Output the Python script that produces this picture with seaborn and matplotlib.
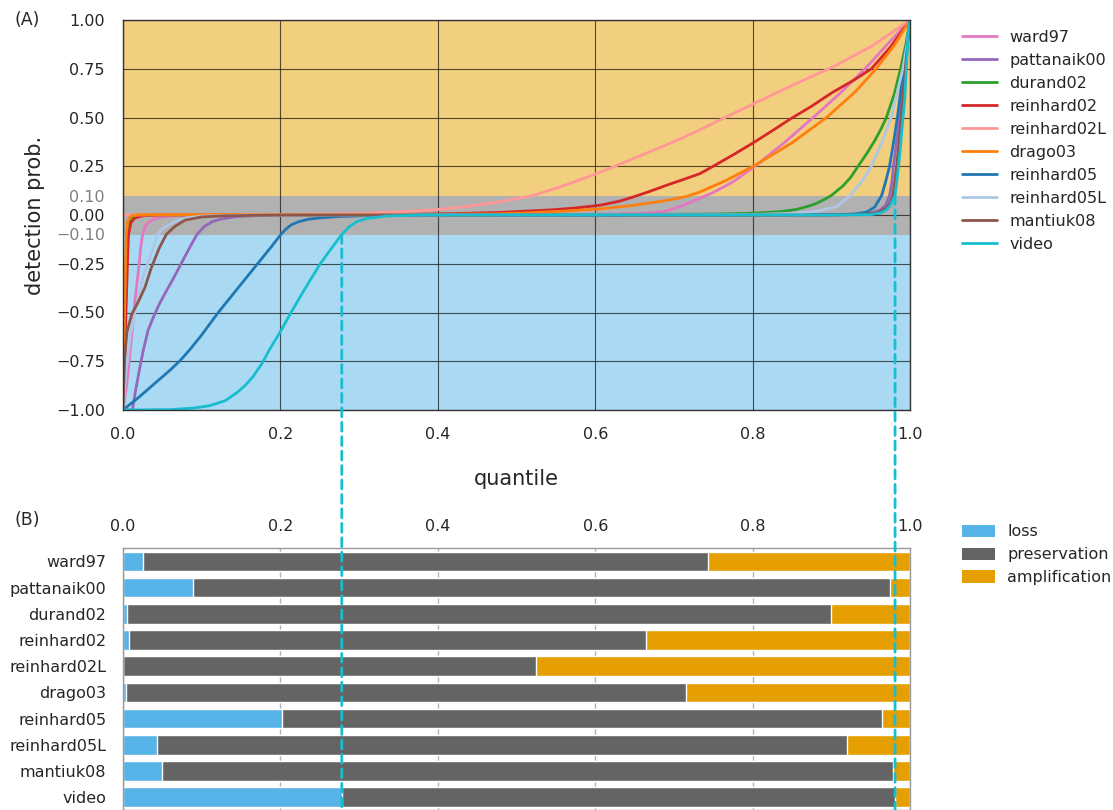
import matplotlib
matplotlib.use("Agg")
import matplotlib.pyplot as plt
from matplotlib.patches import ConnectionPatch, Patch
import numpy as np
import pandas as pd
import seaborn as sns

# ---------------------------------------------------------------- data
methods = ["ward97", "pattanaik00", "durand02", "reinhard02", "reinhard02L",
           "drago03", "reinhard05", "reinhard05L", "mantiuk08", "video"]
line_colors = ["#e377c2", "#9467bd", "#2ca02c", "#d62728", "#ff9896",
               "#ff7f0e", "#1f77b4", "#aec7e8", "#8c564b", "#17becf"]

# detection probability as a function of the contrast quantile
ward97_q = [0, 0.005, 0.01, 0.015, 0.02, 0.023, 0.025, 0.028, 0.033, 0.04, 0.05, 0.065, 0.09,
            0.3, 0.5, 0.6, 0.65, 0.67, 0.69, 0.705, 0.72, 0.735, 0.75, 0.775, 0.803, 0.84, 0.877,
            0.91, 0.943, 0.97, 1.0]
ward97_p = [-1, -0.86, -0.66, -0.45, -0.27, -0.15, -0.1, -0.06, -0.035, -0.02, -0.01, -0.004, -0.001,
            0, 0.001, 0.004, 0.007, 0.011, 0.02, 0.04, 0.063, 0.09, 0.115, 0.17, 0.25, 0.37, 0.5,
            0.62, 0.75, 0.87, 1.0]

pattanaik00_q = [0, 0.012, 0.016, 0.021, 0.026, 0.032, 0.04, 0.047, 0.055, 0.062, 0.07, 0.079, 0.087,
                 0.094, 0.103, 0.113, 0.125, 0.145, 0.17, 0.22, 0.5, 0.85, 0.93, 0.95, 0.962, 0.969,
                 0.974, 0.977, 0.979, 0.983, 0.987, 0.991, 0.994, 0.997, 1.0]
pattanaik00_p = [-1, -1, -0.9, -0.79, -0.69, -0.59, -0.51, -0.45, -0.39, -0.34, -0.28, -0.21, -0.15,
                 -0.1, -0.06, -0.035, -0.02, -0.008, -0.003, 0, 0, 0.001, 0.004, 0.01, 0.025, 0.05,
                 0.1, 0.17, 0.25, 0.38, 0.5, 0.65, 0.78, 0.89, 1.0]

durand02_q = [0, 0.002, 0.004, 0.0055, 0.008, 0.013, 0.025, 0.05, 0.6, 0.75, 0.792, 0.835, 0.855,
              0.869, 0.88, 0.89, 0.9, 0.915, 0.925, 0.934, 0.945, 0.955, 0.963, 0.97, 0.98, 0.988,
              0.995, 1.0]
durand02_p = [-1, -0.6, -0.25, -0.1, -0.04, -0.012, -0.002, 0, 0.002, 0.005, 0.008, 0.017, 0.028,
              0.043, 0.058, 0.077, 0.1, 0.15, 0.195, 0.25, 0.315, 0.38, 0.44, 0.5, 0.62, 0.75,
              0.88, 1.0]

reinhard02_q = [0, 0.003, 0.006, 0.007, 0.01, 0.015, 0.025, 0.05, 0.2, 0.352, 0.42, 0.479, 0.543,
                0.575, 0.606, 0.63, 0.648, 0.67, 0.691, 0.712, 0.733, 0.75, 0.775, 0.8, 0.825,
                0.847, 0.875, 0.9, 0.93, 0.951, 0.975, 1.0]
reinhard02_p = [-1, -0.6, -0.2, -0.1, -0.04, -0.015, -0.004, 0, 0.001, 0.003, 0.007, 0.013, 0.026,
                0.036, 0.05, 0.07, 0.092, 0.122, 0.153, 0.182, 0.212, 0.25, 0.308, 0.368, 0.432,
                0.49, 0.558, 0.625, 0.695, 0.75, 0.86, 1.0]

reinhard02L_q = [0, 0.1, 0.2, 0.3, 0.352, 0.394, 0.44, 0.479, 0.521, 0.56, 0.6, 0.65, 0.68, 0.708,
                 0.733, 0.765, 0.8, 0.85, 0.905, 0.953, 1.0]
reinhard02L_p = [0, 0.001, 0.003, 0.008, 0.017, 0.026, 0.045, 0.068, 0.1, 0.15, 0.209, 0.292, 0.342,
                 0.39, 0.437, 0.5, 0.568, 0.664, 0.765, 0.87, 1.0]

drago03_q = [0, 0.001, 0.003, 0.004, 0.006, 0.01, 0.02, 0.2, 0.4, 0.479, 0.521, 0.56, 0.606, 0.65,
             0.691, 0.716, 0.733, 0.765, 0.801, 0.85, 0.894, 0.93, 0.957, 0.98, 1.0]
drago03_p = [-1, -0.7, -0.3, -0.1, -0.03, -0.005, 0.002, 0.002, 0.003, 0.006, 0.012, 0.02, 0.031,
             0.05, 0.075, 0.095, 0.118, 0.175, 0.25, 0.37, 0.5, 0.63, 0.75, 0.87, 1.0]

reinhard05_q = [0, 0.02, 0.04, 0.06, 0.073, 0.085, 0.1, 0.121, 0.15, 0.175, 0.19, 0.2, 0.207,
                0.214, 0.222, 0.235, 0.25, 0.272, 0.31, 0.4, 0.8, 0.9, 0.93, 0.945, 0.955, 0.964,
                0.969, 0.974, 0.979, 0.984, 0.988, 0.991, 0.996, 1.0]
reinhard05_p = [-1, -0.935, -0.865, -0.795, -0.745, -0.69, -0.615, -0.5, -0.355, -0.23, -0.155,
                -0.103, -0.072, -0.05, -0.036, -0.022, -0.015, -0.0085, -0.003, 0, 0, 0.001,
                0.005, 0.015, 0.04, 0.1, 0.17, 0.25, 0.37, 0.5, 0.63, 0.75, 0.88, 1.0]

reinhard05L_q = [0, 0.004, 0.01, 0.018, 0.026, 0.034, 0.038, 0.044, 0.05, 0.066, 0.08, 0.1, 0.15,
                 0.8, 0.85, 0.88, 0.907, 0.924, 0.94, 0.951, 0.965, 0.976, 0.985, 0.991, 0.996, 1.0]
reinhard05L_p = [-1, -0.8, -0.6, -0.45, -0.31, -0.22, -0.17, -0.1, -0.07, -0.034, -0.015, -0.006,
                 -0.001, 0.003, 0.008, 0.018, 0.043, 0.1, 0.18, 0.25, 0.38, 0.5, 0.65, 0.75, 0.87, 1.0]

mantiuk08_q = [0, 0.002, 0.005, 0.011, 0.02, 0.028, 0.036, 0.046, 0.055, 0.066, 0.079, 0.1, 0.13,
               0.2, 0.9, 0.94, 0.96, 0.971, 0.975, 0.978, 0.981, 0.983, 0.986, 0.989, 0.994, 0.997, 1.0]
mantiuk08_p = [-1, -0.74, -0.6, -0.51, -0.44, -0.37, -0.27, -0.17, -0.1, -0.058, -0.026, -0.01,
               -0.004, 0, 0, 0.003, 0.012, 0.04, 0.065, 0.1, 0.18, 0.25, 0.37, 0.5, 0.75, 0.88, 1.0]

video_q = [0, 0.06, 0.09, 0.11, 0.13, 0.145, 0.155, 0.165, 0.176, 0.187, 0.2, 0.213, 0.229, 0.24,
           0.251, 0.265, 0.278, 0.287, 0.297, 0.31, 0.335, 0.38, 0.9, 0.95, 0.962, 0.97, 0.975,
           0.978, 0.981, 0.984, 0.987, 0.99, 0.9934, 0.9955, 0.9976, 1.0]
video_p = [-1, -0.998, -0.99, -0.978, -0.952, -0.91, -0.875, -0.83, -0.765, -0.684, -0.598, -0.504,
           -0.393, -0.32, -0.248, -0.17, -0.1, -0.062, -0.034, -0.018, -0.005, 0, 0, 0.002, 0.01,
           0.026, 0.05, 0.077, 0.1, 0.2, 0.308, 0.45, 0.598, 0.76, 0.923, 1.0]

# share of the quantile range in each category
loss = [0.025, 0.089, 0.0055, 0.007, 0.0, 0.004, 0.202, 0.043, 0.050, 0.278]
preservation = [0.718, 0.885, 0.8945, 0.657, 0.525, 0.712, 0.762, 0.877, 0.928, 0.703]
amplification = [0.257, 0.026, 0.100, 0.336, 0.475, 0.284, 0.036, 0.080, 0.022, 0.019]

category_names = ["loss", "preservation", "amplification"]
category_colors = ["#56B4E9", "#646464", "#E69F00"]

y_major = [-1.0, -0.75, -0.5, -0.25, 0.0, 0.25, 0.5, 0.75, 1.0]
y_band = [-0.1, 0.1]
x_ticks = [0.0, 0.2, 0.4, 0.6, 0.8, 1.0]

curves = {
    "ward97": (ward97_q, ward97_p),
    "pattanaik00": (pattanaik00_q, pattanaik00_p),
    "durand02": (durand02_q, durand02_p),
    "reinhard02": (reinhard02_q, reinhard02_p),
    "reinhard02L": (reinhard02L_q, reinhard02L_p),
    "drago03": (drago03_q, drago03_p),
    "reinhard05": (reinhard05_q, reinhard05_p),
    "reinhard05L": (reinhard05L_q, reinhard05L_p),
    "mantiuk08": (mantiuk08_q, mantiuk08_p),
    "video": (video_q, video_p),
}
curve_df = pd.concat(
    [pd.DataFrame({"method": m, "quantile": curves[m][0], "prob": curves[m][1]}) for m in methods],
    ignore_index=True,
)

# ---------------------------------------------------------------- style
sns.set_theme(style="white")
plt.rcParams["font.family"] = ["DejaVu Sans"]
FS = 11.5

W, H = 1113, 810
fig = plt.figure(figsize=(W / 100, H / 100), dpi=100)
axA = fig.add_axes([123 / W, 1 - 410 / H, 787 / W, 390 / H])
axB = fig.add_axes([123 / W, 0.0, 787 / W, 262 / H])

# ---------------------------------------------------------------- panel A
axA.axhspan(y_band[1], 1.0, color=category_colors[2], alpha=0.5, lw=0, zorder=0.2)
axA.axhspan(y_band[0], y_band[1], color=category_colors[1], alpha=0.5, lw=0, zorder=0.2)
axA.axhspan(-1.0, y_band[0], color=category_colors[0], alpha=0.5, lw=0, zorder=0.2)

sns.lineplot(data=curve_df, x="quantile", y="prob", hue="method", hue_order=methods,
             palette=dict(zip(methods, line_colors)), estimator=None, sort=False,
             lw=2.0, ax=axA)

axA.set_xlim(0, 1.0)
axA.set_ylim(-1.0, 1.0)
axA.set_xticks(x_ticks)
axA.set_xticklabels([f"{t:.1f}" for t in x_ticks], fontsize=FS)
axA.set_yticks(y_major)
axA.set_yticklabels([f"{t:.2f}".replace("-", "\u2212") for t in y_major], fontsize=FS)
axA.set_yticks(y_band, minor=True)
axA.set_yticklabels([f"{t:.2f}".replace("-", "\u2212") for t in y_band], minor=True,
                    fontsize=FS, color="#808080")
axA.tick_params(axis="both", which="both", length=0)
axA.tick_params(axis="x", pad=12)
axA.tick_params(axis="y", which="both", pad=13)
axA.set_axisbelow(True)
axA.grid(True, which="major", color="black", alpha=0.65, lw=0.8)
axA.grid(False, which="minor")
for s in axA.spines.values():
    s.set_color("#333333")
    s.set_linewidth(1.0)
axA.set_xlabel("quantile", fontsize=15, labelpad=20)
axA.set_ylabel("detection prob.", fontsize=15, labelpad=8)

sns.move_legend(axA, "upper left", bbox_to_anchor=(1.066, 0.975), frameon=False, title=None,
                fontsize=FS, borderpad=0, borderaxespad=0, handlelength=2.2,
                handletextpad=0.75, labelspacing=0.5)
for h in axA.get_legend().legend_handles:
    h.set_linewidth(2.0)

# ---------------------------------------------------------------- panel B
cum_pres = [l + p for l, p in zip(loss, preservation)]
cum_all = [c + a for c, a in zip(cum_pres, amplification)]
for vals, col in zip([cum_all, cum_pres, loss], category_colors[::-1]):
    sns.barplot(x=vals, y=methods, orient="h", color=col, saturation=1, width=0.75,
                errorbar=None, ax=axB)

axB.set_xlim(0, 1.0)
axB.set_ylim(9.49, -0.51)
axB.xaxis.tick_top()
axB.set_xticks(x_ticks)
axB.set_xticklabels([f"{t:.1f}" for t in x_ticks], fontsize=FS)
axB.tick_params(axis="both", length=0)
axB.tick_params(axis="x", pad=10)
axB.tick_params(axis="y", pad=12, labelsize=FS)
axB.set_xlabel("")
axB.set_ylabel("")
axB.set_axisbelow(True)
axB.grid(True, axis="x", color="#b3b3b3", lw=1.0)
axB.grid(False, axis="y")
for s in axB.spines.values():
    s.set_color("#999999")
    s.set_linewidth(1.0)

handles = [Patch(facecolor=c, edgecolor="none", label=n)
           for c, n in zip(category_colors, category_names)]
axB.legend(handles=handles, loc="upper left", bbox_to_anchor=(1.066, 1.09), frameon=False,
           fontsize=FS, borderpad=0, borderaxespad=0, handlelength=2.1, handleheight=0.85,
           handletextpad=0.75, labelspacing=0.5)

# ---------------------------------------------------------------- links between panels
vid = methods.index("video")
for xq, yp in [(loss[vid], y_band[0]), (cum_pres[vid], y_band[1])]:
    con = ConnectionPatch(xyA=(xq, yp), coordsA=axA.transData,
                          xyB=(xq, 9.49), coordsB=axB.transData,
                          color="#17becf", lw=2.0, linestyle=(0, (3.2, 2.0)), zorder=10)
    fig.add_artist(con)

fig.text(27 / W, 1 - 20 / H, "(A)", fontsize=12.5, ha="center", va="center")
fig.text(27 / W, 1 - 520 / H, "(B)", fontsize=12.5, ha="center", va="center")

fig.savefig("out.png", dpi=100)
